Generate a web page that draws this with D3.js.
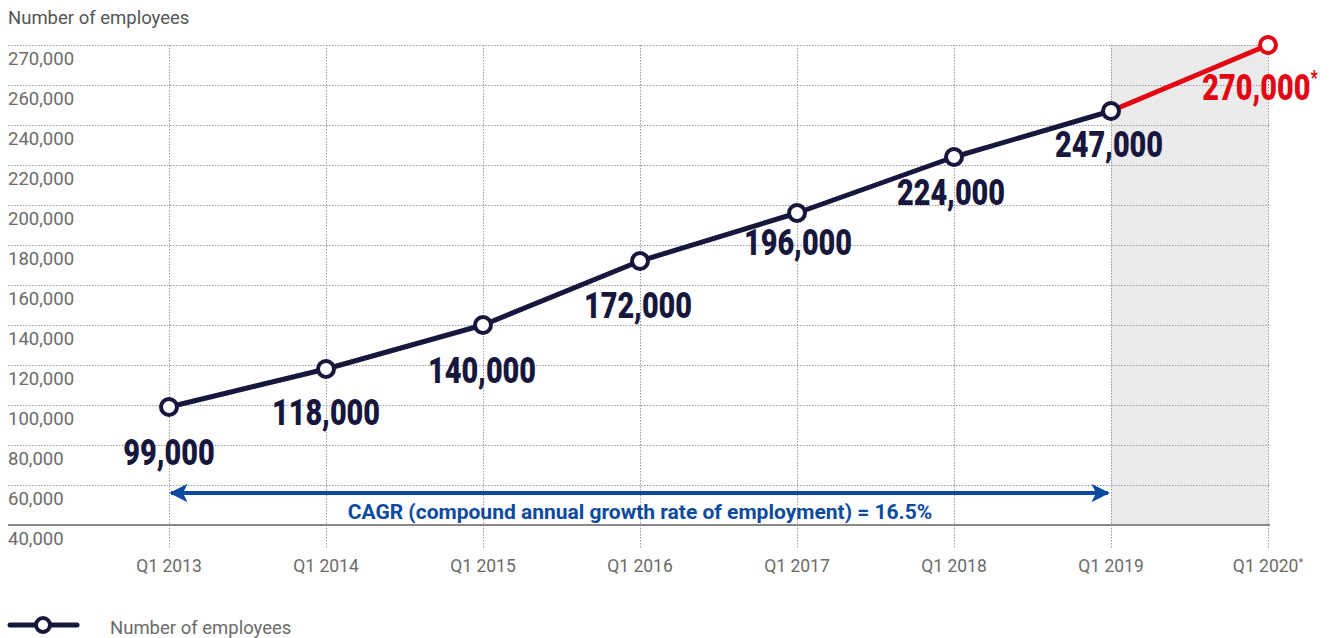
<!DOCTYPE html>
<html>
<head>
<meta charset="utf-8">
<script src="https://cdn.jsdelivr.net/npm/d3@7"></script>
<style>
  body { margin: 0; background: #fff; }
  svg { display: block; }
  .tick-label { font-family: Roboto, "Noto Sans", sans-serif; font-size: 18.5px; fill: #6b6b6b; }
  .value-label { font-family: Roboto, "Noto Sans", sans-serif; font-weight: 900; font-size: 37px; }
</style>
</head>
<body>
<div class="chart"></div>
<script>
// data
const quarters = ["Q1 2013", "Q1 2014", "Q1 2015", "Q1 2016", "Q1 2017", "Q1 2018", "Q1 2019", "Q1 2020*"];
const employees = [99000, 118000, 140000, 172000, 196000, 224000, 247000, 270000];
const valueLabels = ["99,000", "118,000", "140,000", "172,000", "196,000", "224,000", "247,000", "270,000"];
const yTicks = [40000, 60000, 80000, 100000, 120000, 140000, 160000, 180000, 200000, 220000, 240000, 260000, 270000];
const forecastFrom = "Q1 2019";
const cagrText = "CAGR (compound annual growth rate of employment) = 16.5%";

const navy = "#17173d", red = "#e30613", blue = "#0b4a9e";
const width = 1336, height = 638;

const svg = d3.select(".chart").append("svg")
    .attr("width", width)
    .attr("height", height);

// scales
const x = d3.scalePoint()
    .domain(quarters)
    .range([169, 1268]);

// axis labels are not evenly spaced (260k -> 270k takes a full grid step)
const y = d3.scaleLinear()
    .domain(yTicks)
    .range(yTicks.map((d, i) => 525 - i * 40));

const left = 8, right = 1270;

// forecast shading
svg.append("rect")
    .attr("x", x(forecastFrom))
    .attr("y", y(270000))
    .attr("width", x(quarters[quarters.length - 1]) - x(forecastFrom))
    .attr("height", y(40000) - y(270000))
    .attr("fill", "#ebebeb");

// horizontal grid
svg.append("g")
    .selectAll("line")
    .data(yTicks.slice(1))
    .join("line")
    .attr("x1", left).attr("x2", right)
    .attr("y1", d => y(d) + 0.5).attr("y2", d => y(d) + 0.5)
    .attr("stroke", "#9a9a9a")
    .attr("stroke-width", 1)
    .attr("stroke-dasharray", "1.5,1.5");

// vertical grid
svg.append("g")
    .selectAll("line")
    .data(quarters)
    .join("line")
    .attr("x1", d => x(d) + 0.5).attr("x2", d => x(d) + 0.5)
    .attr("y1", y(270000)).attr("y2", 548)
    .attr("stroke", "#9a9a9a")
    .attr("stroke-width", 1)
    .attr("stroke-dasharray", "1.5,1.5");

// baseline
svg.append("line")
    .attr("x1", left).attr("x2", right)
    .attr("y1", y(40000)).attr("y2", y(40000))
    .attr("stroke", "#8a8a8a")
    .attr("stroke-width", 2);

// y tick labels sit just under their grid line
svg.append("g")
    .selectAll("text")
    .data(yTicks)
    .join("text")
    .attr("class", "tick-label")
    .attr("x", left)
    .attr("y", d => y(d) + 20)
    .text(d => d3.format(",")(d));

svg.append("text")
    .attr("class", "tick-label")
    .attr("x", left)
    .attr("y", 24)
    .style("fill", "#555")
    .text("Number of employees");

// x tick labels
svg.append("g")
    .selectAll("text")
    .data(quarters)
    .join("text")
    .attr("class", "tick-label")
    .attr("x", d => x(d))
    .attr("y", 572)
    .attr("text-anchor", "middle")
    .style("font-size", "17.5px")
    .text(d => d.replace("*", ""))
    .append("tspan")
    .attr("dy", -6)
    .style("font-size", "11px")
    .text(d => d.endsWith("*") ? "*" : "");

// CAGR arrow
const defs = svg.append("defs");
defs.append("marker")
    .attr("id", "arrow")
    .attr("viewBox", "0 0 10 10")
    .attr("refX", 9).attr("refY", 5)
    .attr("markerWidth", 6.5).attr("markerHeight", 4.6)
    .attr("orient", "auto-start-reverse")
    .append("path")
    .attr("d", "M0,0 L10,5 L0,10 L2.5,5 Z")
    .attr("fill", blue);

svg.append("line")
    .attr("x1", x(quarters[0]) + 2).attr("x2", x(forecastFrom) - 3)
    .attr("y1", 493).attr("y2", 493)
    .attr("stroke", blue)
    .attr("stroke-width", 4)
    .attr("marker-start", "url(#arrow)")
    .attr("marker-end", "url(#arrow)");

svg.append("text")
    .attr("x", (x(quarters[0]) + x(forecastFrom)) / 2)
    .attr("y", 519)
    .attr("text-anchor", "middle")
    .attr("fill", blue)
    .style("font-family", "Roboto, sans-serif")
    .style("font-weight", "bold")
    .style("font-size", "21px")
    .text(cagrText);

// lines
const data = quarters.map((q, i) => ({ q, v: employees[i], label: valueLabels[i] }));
const line = d3.line().x(d => x(d.q)).y(d => y(d.v));
const split = quarters.indexOf(forecastFrom);

svg.append("path")
    .attr("d", line(data.slice(split)))
    .attr("fill", "none")
    .attr("stroke", red)
    .attr("stroke-width", 5);

svg.append("path")
    .attr("d", line(data.slice(0, split + 1)))
    .attr("fill", "none")
    .attr("stroke", navy)
    .attr("stroke-width", 5)
    .attr("stroke-linejoin", "round");

svg.append("g")
    .selectAll("circle")
    .data(data)
    .join("circle")
    .attr("cx", d => x(d.q))
    .attr("cy", d => y(d.v))
    .attr("r", 8)
    .attr("fill", "#fff")
    .attr("stroke", (d, i) => i > split ? red : navy)
    .attr("stroke-width", 4);

// value labels (condensed look via horizontal squeeze)
const labelOffsets = [58, 56, 58, 57, 42, 48, 46, 55];
const labelShift = [0, 0, -1, -2, 1, -3, -2, -8];
const labels = svg.append("g")
    .selectAll("text")
    .data(data)
    .join("text")
    .attr("class", "value-label")
    .attr("transform", (d, i) =>
        `translate(${x(d.q) + labelShift[i]},${y(d.v) + labelOffsets[i]}) scale(0.78,1)`)
    .attr("text-anchor", "middle")
    .attr("fill", (d, i) => i > split ? red : navy)
    .text(d => d.label);

labels.filter((d, i) => i > split)
    .append("tspan")
    .attr("dy", -15)
    .style("font-size", "20px")
    .text("*");

// legend
const legend = svg.append("g").attr("transform", "translate(10,625)");
legend.append("line")
    .attr("x1", 0).attr("x2", 67)
    .attr("stroke", navy)
    .attr("stroke-width", 5)
    .attr("stroke-linecap", "round");
legend.append("circle")
    .attr("cx", 33).attr("r", 7)
    .attr("fill", "#fff")
    .attr("stroke", navy)
    .attr("stroke-width", 4);
legend.append("text")
    .attr("class", "tick-label")
    .attr("x", 100)
    .attr("y", 9)
    .text("Number of employees");
</script>
</body>
</html>
